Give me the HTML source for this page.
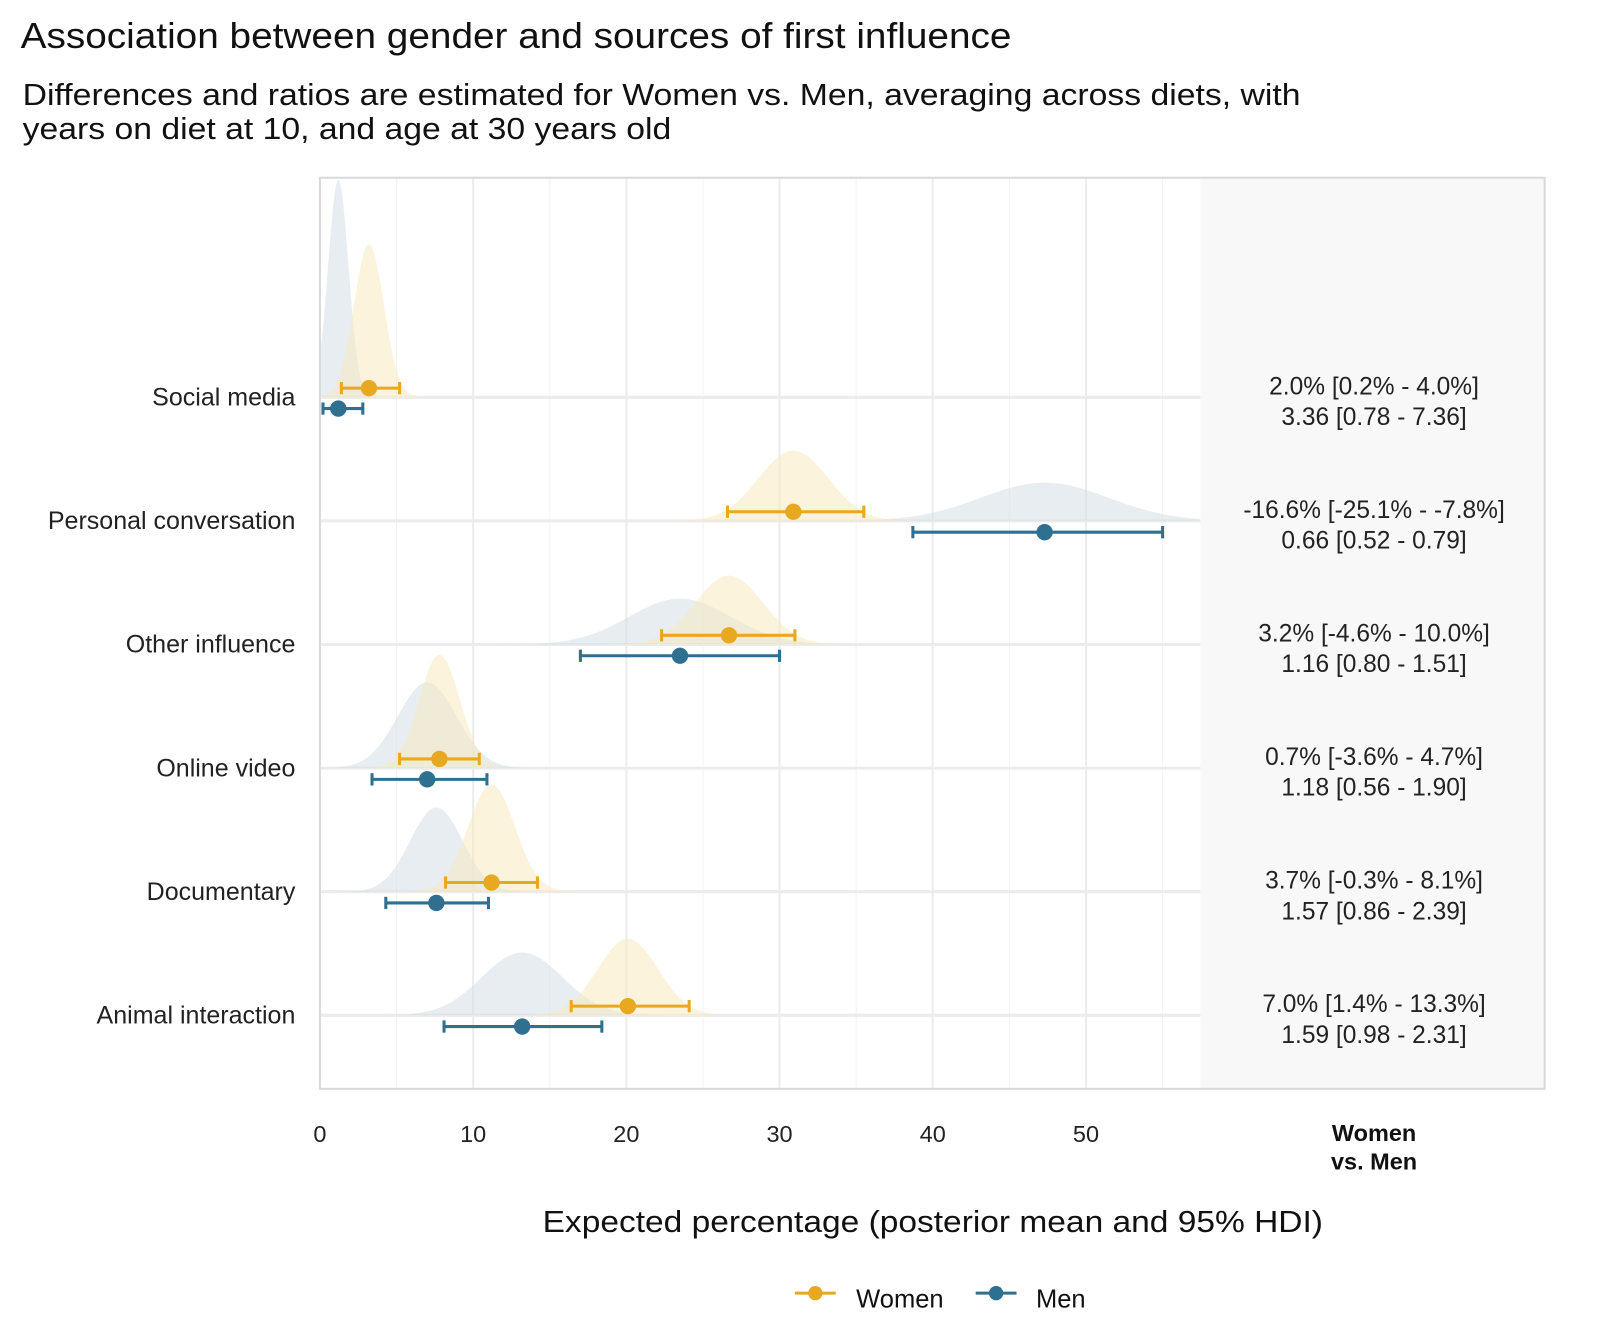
<!DOCTYPE html>
<html><head><meta charset="utf-8"><style>
body{margin:0;background:#fff;}
svg text{font-family:"Liberation Sans",sans-serif;}
</style></head><body>
<svg id="chart" width="1600" height="1334" viewBox="0 0 1566 1306" xmlns="http://www.w3.org/2000/svg">
<text x="20" y="47" font-size="35" fill="#111" textLength="970" lengthAdjust="spacingAndGlyphs">Association between gender and sources of first influence</text>
<text x="22" y="103" font-size="30" fill="#111" textLength="1251" lengthAdjust="spacingAndGlyphs">Differences and ratios are estimated for Women vs. Men, averaging across diets, with</text>
<text x="22" y="136" font-size="30" fill="#111" textLength="635" lengthAdjust="spacingAndGlyphs">years on diet at 10, and age at 30 years old</text>
<rect x="1175" y="174" width="337" height="892" fill="#f8f8f8"/>
<g id="grid"></g>
<g id="dens"></g>
<g id="marks"></g>
<rect x="313" y="174" width="1199" height="892" fill="none" stroke="#d9d9d9" stroke-width="2"/>
<g id="labels"></g>
<text x="1345" y="1117" font-size="23" font-weight="bold" text-anchor="middle" fill="#111">Women</text>
<text x="1345" y="1145" font-size="23" font-weight="bold" text-anchor="middle" fill="#111">vs. Men</text>
<text x="531" y="1206" font-size="30" fill="#111" textLength="764" lengthAdjust="spacingAndGlyphs">Expected percentage (posterior mean and 95% HDI)</text>
<g>
<line x1="778" y1="1266" x2="818" y2="1266" stroke="#E8A820" stroke-width="3"/>
<circle cx="798" cy="1266" r="7" fill="#E8A820"/>
<text x="838" y="1280" font-size="25" fill="#111">Women</text>
<line x1="955" y1="1266" x2="995" y2="1266" stroke="#2F6F8F" stroke-width="3"/>
<circle cx="975" cy="1266" r="7" fill="#2F6F8F"/>
<text x="1014" y="1280" font-size="25" fill="#111">Men</text>
</g>
</svg>
<script>
const categories=["Social media","Personal conversation","Other influence","Online video","Documentary","Animal interaction"];
const womenMean=[3.2,30.9,26.7,7.8,11.2,20.1];
const womenLo=[1.4,26.6,22.3,5.2,8.2,16.4];
const womenHi=[5.2,35.5,31.0,10.4,14.2,24.1];
const menMean=[1.2,47.3,23.5,7.0,7.6,13.2];
const menLo=[0.2,38.7,17.0,3.4,4.3,8.1];
const menHi=[2.8,55.0,30.0,10.9,11.0,18.4];
const womenPeak=[10.0,4.6,4.5,7.4,7.0,5.0];
const menPeak=[14.2,2.5,3.0,5.6,5.5,4.1];
const diffLabels=["2.0% [0.2% - 4.0%]","-16.6% [-25.1% - -7.8%]","3.2% [-4.6% - 10.0%]","0.7% [-3.6% - 4.7%]","3.7% [-0.3% - 8.1%]","7.0% [1.4% - 13.3%]"];
const ratioLabels=["3.36 [0.78 - 7.36]","0.66 [0.52 - 0.79]","1.16 [0.80 - 1.51]","1.18 [0.56 - 1.90]","1.57 [0.86 - 2.39]","1.59 [0.98 - 2.31]"];
const xTicks=[0,10,20,30,40,50];
const NS="http://www.w3.org/2000/svg";
const x=v=>313+v*15;
const rowY=i=>389+i*121;
const hUnit=15;
function mk(tag,attrs,parent){const e=document.createElementNS(NS,tag);for(const k in attrs)e.setAttribute(k,attrs[k]);document.getElementById(parent).appendChild(e);return e;}
for(let v=5;v<=55;v+=5){const g=mk('line',{x1:x(v),x2:x(v),y1:175,y2:1065,stroke:v%10===0?'#ececec':'#f3f3f3','stroke-width':v%10===0?2:1},'grid');

}
categories.forEach((c,i)=>{const g=mk('line',{x1:314,x2:1175,y1:rowY(i),y2:rowY(i),stroke:'#ececec','stroke-width':3},'grid');

});
xTicks.forEach(v=>{const t=mk('text',{x:x(v),y:1118,'font-size':23,'text-anchor':'middle',fill:'#222'},'labels');t.textContent=v;

});
function dens(i,mean,lo,hi,peak,fill,nm){
  const sd=(hi-lo)/3.92;const y0=rowY(i);let d='';
  const a=Math.max(0,mean-4*sd),b=Math.min(57.4,mean+4*sd);
  for(let k=0;k<=80;k++){const v=a+(b-a)*k/80;const h=peak*hUnit*Math.exp(-0.5*((v-mean)/sd)**2);d+=(k?'L':'M')+x(v).toFixed(1)+' '+(y0-h).toFixed(1);}
  d+='L'+x(b)+' '+y0+'L'+x(a)+' '+y0+'Z';
  const p=mk('path',{d:d,fill:fill,'fill-opacity':0.55},'dens');
  
  
}
function interval(i,mean,lo,hi,off,col,nm){
  const y=rowY(i)+off;
  const g=mk('g',{},'marks');
  
  
  const add=(t,a)=>{const e=document.createElementNS(NS,t);for(const k in a)e.setAttribute(k,a[k]);g.appendChild(e);};
  add('line',{x1:x(lo),x2:x(hi),y1:y,y2:y,stroke:col,'stroke-width':3});
  add('line',{x1:x(lo),x2:x(lo),y1:y-6,y2:y+6,stroke:col,'stroke-width':3});
  add('line',{x1:x(hi),x2:x(hi),y1:y-6,y2:y+6,stroke:col,'stroke-width':3});
  add('circle',{cx:x(mean),cy:y,r:8,fill:col});
}
categories.forEach((c,i)=>{
  dens(i,menMean[i],menLo[i],menHi[i],menPeak[i],'#d3dfe5','density-men');
  dens(i,womenMean[i],womenLo[i],womenHi[i],womenPeak[i],'#f8e9bf','density-women');
});
categories.forEach((c,i)=>{
  interval(i,womenMean[i],womenLo[i],womenHi[i],-9,'#E8A820','women-interval');
  interval(i,menMean[i],menLo[i],menHi[i],11,'#2F6F8F','men-interval');
  const t=mk('text',{x:289,y:rowY(i)+8,'font-size':24.5,'text-anchor':'end',fill:'#222'},'labels');t.textContent=c;
  
  
  const d=mk('text',{x:1345,y:rowY(i)-3,'font-size':24,'text-anchor':'middle',fill:'#222'},'labels');d.textContent=diffLabels[i];
  
  
  const r=mk('text',{x:1345,y:rowY(i)+27,'font-size':24,'text-anchor':'middle',fill:'#222'},'labels');r.textContent=ratioLabels[i];
  
  
});
</script>
</body></html>
